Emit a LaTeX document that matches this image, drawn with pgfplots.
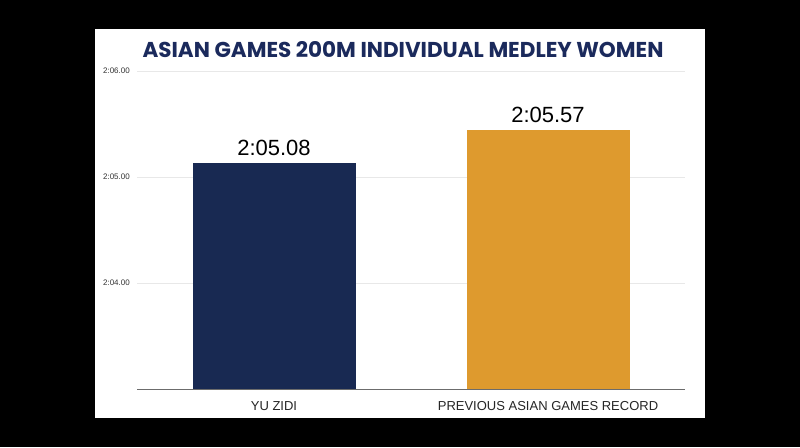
\documentclass[border=0pt]{standalone}
\usepackage{pgfplots}
\pgfplotsset{compat=1.18}
\usepackage{fontspec}
\setmainfont{Liberation Sans}
\newfontfamily\titlefont{Poppins}
\definecolor{navybar}{RGB}{24,41,82}
\definecolor{orangebar}{RGB}{222,154,46}
\definecolor{titlenavy}{RGB}{27,42,92}
\begin{document}
\begin{tikzpicture}[x=1pt,y=1pt]
\fill[black] (0,0) rectangle (800,447);
\fill[white] (95,29) rectangle (705,418);
\node[anchor=base, text=titlenavy, inner sep=0pt] at (403,389.7) {\titlefont\bfseries\fontsize{21.5}{24}\selectfont ASIAN GAMES 200M INDIVIDUAL MEDLEY WOMEN};
\begin{axis}[
  at={(137pt,58pt)}, anchor=south west,
  scale only axis, width=548pt, height=318pt,
  xmin=-0.5, xmax=1.5, ymin=123, ymax=126,
  ybar, bar width=163pt,
  axis x line*=bottom, axis y line*=left,
  x axis line style={draw=gray!85!black, line width=0.9pt, -},
  y axis line style={draw=none},
  xtick={0,1}, xticklabels={YU ZIDI, PREVIOUS ASIAN GAMES RECORD},
  ytick={124,125,126}, yticklabels={2:04.00,2:05.00,2:06.00},
  xtick style={draw=none}, ytick style={draw=none},
  ymajorgrids, major grid style={draw=gray!18, line width=0.8pt},
  xticklabel style={font=\fontsize{13}{13}\selectfont, text=black!85, inner sep=0pt, anchor=north, yshift=-8pt},
  yticklabel style={font=\fontsize{8}{8}\selectfont, text=black!80, inner sep=0pt, anchor=east, xshift=-7pt},
  /pgf/number format/assume math mode=true,
  nodes near coords, point meta=explicit symbolic,
  every node near coord/.append style={anchor=south, inner sep=0pt, yshift=7pt, font=\fontsize{22}{22}\selectfont, text=black},
  clip=false,
]
\addplot[fill=navybar, draw=none, bar shift=0pt] coordinates {(0,125.13) [2:05.08]};
\addplot[fill=orangebar, draw=none, bar shift=0pt] coordinates {(1,125.44) [2:05.57]};
\end{axis}
\end{tikzpicture}
\end{document}
